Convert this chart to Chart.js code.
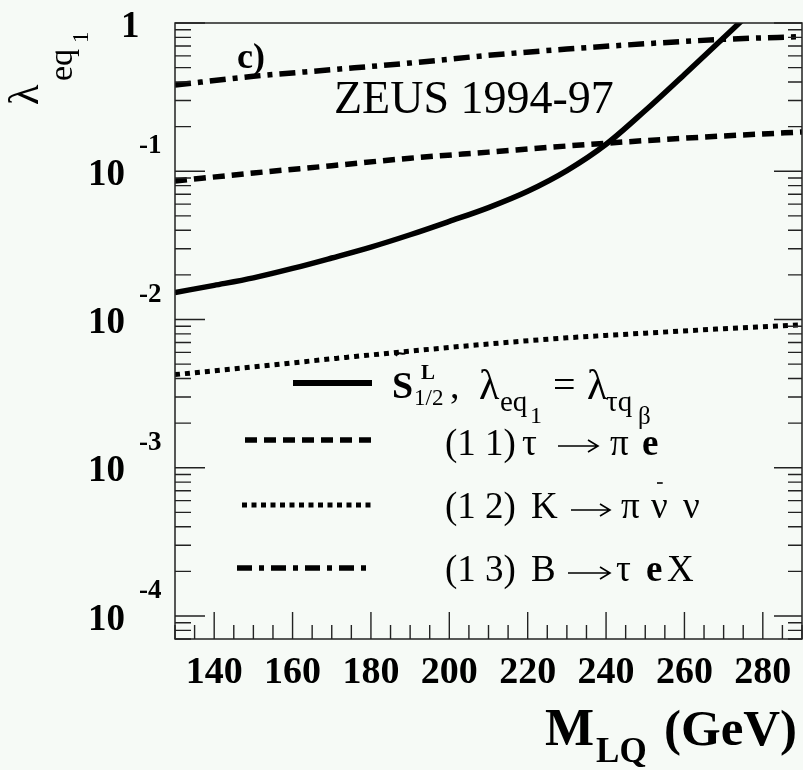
<!DOCTYPE html>
<html>
<head>
<meta charset="utf-8">
<title>ZEUS 1994-97 lambda_eq1 limits</title>
<script src="https://cdn.jsdelivr.net/npm/chart.js@4.4.1/dist/chart.umd.min.js"></script>
<style>
  html, body { margin: 0; padding: 0; background: #f6faf6; }
  #wrap { width: 803px; height: 770px; }
</style>
</head>
<body>
<div id="wrap"><canvas id="limitChart" width="803" height="770"></canvas></div>
<script>
// leptoquark mass (GeV) and upper limits on lambda_eq1
const massSolid = [130, 140, 150, 160, 170, 180, 190, 200, 210, 220, 230, 240, 250, 260, 270, 278];
const lambdaSolid = [0.0152, 0.0170, 0.0191, 0.0221, 0.0260, 0.0308, 0.0373, 0.0459, 0.0569, 0.0733, 0.101, 0.152, 0.257, 0.450, 0.794, 1.26];

const massLines = [130, 150, 170, 190, 210, 230, 250, 270, 290];
const lambdaTauPiE = [0.0859, 0.0973, 0.109, 0.1225, 0.1346, 0.148, 0.161, 0.173, 0.184];        // (11)
const lambdaKPiNuNu = [0.00425, 0.00479, 0.00543, 0.00612, 0.00684, 0.00752, 0.00809, 0.00867, 0.00923]; // (12)
const lambdaBTauEX = [0.381, 0.437, 0.484, 0.537, 0.605, 0.667, 0.724, 0.776, 0.809];          // (13)

const xMajorTicks = [140, 160, 180, 200, 220, 240, 260, 280];
const yDecades = [0, -1, -2, -3, -4];
const yTickLabels = ['1', '-1', '-2', '-3', '-4'];

const BG = '#f6faf6';
const SERIF = '"Liberation Serif", "Times New Roman", serif';

function toPoints(xs, ys) {
    return xs.map((m, i) => ({ x: m, y: ys[i] }));
}

function txt(ctx, s, x, y, font) {
    ctx.font = font;
    ctx.fillText(s, x, y);
    return x + ctx.measureText(s).width;
}

function arrow(ctx, x0, x1, y) {
    ctx.beginPath();
    ctx.moveTo(x0, y);
    ctx.lineTo(x1, y);
    ctx.moveTo(x1 - 10, y - 6);
    ctx.lineTo(x1, y);
    ctx.lineTo(x1 - 10, y + 6);
    ctx.lineWidth = 1.6;
    ctx.stroke();
}

const decorations = {
    id: 'decorations',
    beforeDraw(chart) {
        const ctx = chart.ctx;
        ctx.save();
        ctx.fillStyle = BG;
        ctx.fillRect(0, 0, chart.width, chart.height);
        ctx.restore();
    },
    afterDraw(chart) {
        const ctx = chart.ctx;
        const a = chart.chartArea;
        const xs = chart.scales.x;
        const ys = chart.scales.y;
        ctx.save();
        ctx.strokeStyle = '#222';
        ctx.fillStyle = '#000';

        // frame
        ctx.lineWidth = 1.5;
        ctx.strokeRect(a.left, a.top, a.right - a.left, a.bottom - a.top);

        // x ticks (bottom only)
        ctx.lineWidth = 1.4;
        for (let m = 130; m <= 290; m += 5) {
            const px = xs.getPixelForValue(m);
            const len = xMajorTicks.includes(m) ? 27 : 14;
            ctx.beginPath();
            ctx.moveTo(px, a.bottom);
            ctx.lineTo(px, a.bottom - len);
            ctx.stroke();
        }

        // y ticks left and right
        const yMin = ys.min, yMax = ys.max;
        for (let d = -5; d <= 0; d++) {
            for (let k = 1; k <= 9; k++) {
                const v = k * Math.pow(10, d);
                if (v < yMin * 0.999 || v > yMax * 1.001) continue;
                const py = ys.getPixelForValue(v);
                const major = k === 1;
                ctx.beginPath();
                ctx.moveTo(a.left, py);
                ctx.lineTo(a.left + (major ? 30 : 16), py);
                ctx.moveTo(a.right, py);
                ctx.lineTo(a.right - (major ? 28 : 14), py);
                ctx.stroke();
            }
        }

        // x tick labels
        ctx.textAlign = 'center';
        ctx.textBaseline = 'alphabetic';
        ctx.font = 'bold 38px ' + SERIF;
        xMajorTicks.forEach(m => {
            ctx.fillText(String(m), xs.getPixelForValue(m), 683);
        });

        // y tick labels
        ctx.textAlign = 'left';
        yDecades.forEach((d, i) => {
            const py = ys.getPixelForValue(Math.pow(10, d));
            if (d === 0) {
                txt(ctx, yTickLabels[i], 121, py + 14, 'bold 37px ' + SERIF);
            } else {
                txt(ctx, '10', 88, py + 13.5, 'bold 37px ' + SERIF);
                txt(ctx, yTickLabels[i], 139, py - 18, 'bold 27px ' + SERIF);
            }
        });

        // x axis title
        let cx = txt(ctx, 'M', 545, 745, 'bold 52px ' + SERIF);
        txt(ctx, 'LQ', cx + 2, 762, 'bold 35px ' + SERIF);
        txt(ctx, '(GeV)', 664, 745, 'bold 51px ' + SERIF);

        // y axis title
        ctx.save();
        ctx.translate(38, 105);
        ctx.rotate(-Math.PI / 2);
        txt(ctx, 'λ', 0, 0, '42px ' + SERIF);
        txt(ctx, 'eq', 24, 34, '34px ' + SERIF);
        txt(ctx, '1', 62, 50, '23px ' + SERIF);
        ctx.restore();

        // panel labels
        txt(ctx, 'c)', 237, 68, 'bold 36px ' + SERIF);
        txt(ctx, 'ZEUS 1994-97', 334, 113, '46px ' + SERIF);

        // legend samples
        ctx.strokeStyle = '#000';
        const samples = [
            { x0: 293, y: 383, dash: [], w: 6 },
            { x0: 245, y: 440, dash: [12, 7], w: 5.5 },
            { x0: 242, y: 505, dash: [5, 4.5], w: 5 },
            { x0: 237, y: 568, dash: [15, 7, 5, 7], w: 5.5 }
        ];
        samples.forEach(s => {
            ctx.beginPath();
            ctx.setLineDash(s.dash);
            ctx.lineWidth = s.w;
            ctx.moveTo(s.x0, s.y);
            ctx.lineTo(372, s.y);
            ctx.stroke();
        });
        ctx.setLineDash([]);

        // legend entry 1: S~^L_1/2, lambda_eq1 = lambda_tau q_beta
        txt(ctx, 'S', 392, 398, 'bold 38px ' + SERIF);
        ctx.beginPath();
        ctx.moveTo(396, 356);
        ctx.bezierCurveTo(399, 349, 403, 358, 408, 351);
        ctx.lineWidth = 2;
        ctx.stroke();
        txt(ctx, 'L', 421, 379, 'bold 21px ' + SERIF);
        txt(ctx, '1/2', 414, 405, '23px ' + SERIF);
        txt(ctx, ',', 450, 398, '38px ' + SERIF);
        txt(ctx, 'λ', 479, 399, '42px ' + SERIF);
        txt(ctx, 'eq', 500, 411, '29px ' + SERIF);
        txt(ctx, '1', 530, 423, '24px ' + SERIF);
        txt(ctx, '=', 553, 398, '40px ' + SERIF);
        txt(ctx, 'λ', 587, 399, '42px ' + SERIF);
        txt(ctx, 'τq', 606, 411, '29px ' + SERIF);
        txt(ctx, 'β', 638, 424, '25px ' + SERIF);

        // legend entries 11-13
        const f = '37px ' + SERIF;
        const fb = 'bold 37px ' + SERIF;
        txt(ctx, '(1 1)', 445, 455, f);
        txt(ctx, 'τ', 522, 455, f);
        arrow(ctx, 558, 598, 446);
        txt(ctx, 'π', 610, 455, f);
        txt(ctx, 'e', 642, 455, fb);

        txt(ctx, '(1 2)', 445, 518, f);
        txt(ctx, 'K', 531, 518, f);
        arrow(ctx, 571, 610, 510);
        txt(ctx, 'π', 621, 518, f);
        const nb = txt(ctx, 'ν', 651, 518, f);
        ctx.beginPath();
        ctx.moveTo(657, 483);
        ctx.lineTo(nb - 5, 483);
        ctx.lineWidth = 1.6;
        ctx.stroke();
        txt(ctx, 'ν', 683, 518, f);

        txt(ctx, '(1 3)', 445, 581, f);
        txt(ctx, 'B', 531, 581, f);
        arrow(ctx, 568, 610, 573);
        txt(ctx, 'τ', 616, 581, f);
        txt(ctx, 'e', 646, 581, fb);
        txt(ctx, 'X', 667, 581, f);

        ctx.restore();
    }
};

const ctx = document.getElementById('limitChart').getContext('2d');
new Chart(ctx, {
    type: 'line',
    data: {
        datasets: [
            {
                label: 'S1/2 L',
                data: toPoints(massSolid, lambdaSolid),
                borderColor: '#000',
                borderWidth: 5.5,
                pointRadius: 0,
                cubicInterpolationMode: 'monotone'
            },
            {
                label: '(11) tau -> pi e',
                data: toPoints(massLines, lambdaTauPiE),
                borderColor: '#000',
                borderWidth: 5.5,
                borderDash: [12, 7],
                pointRadius: 0,
                cubicInterpolationMode: 'monotone'
            },
            {
                label: '(12) K -> pi nu nu',
                data: toPoints(massLines, lambdaKPiNuNu),
                borderColor: '#000',
                borderWidth: 5,
                borderDash: [5, 5],
                pointRadius: 0,
                cubicInterpolationMode: 'monotone'
            },
            {
                label: '(13) B -> tau e X',
                data: toPoints(massLines, lambdaBTauEX),
                borderColor: '#000',
                borderWidth: 5.5,
                borderDash: [16, 7, 5, 7],
                pointRadius: 0,
                cubicInterpolationMode: 'monotone'
            }
        ]
    },
    options: {
        responsive: false,
        animation: false,
        layout: {
            padding: { left: 175, top: 23, right: 1, bottom: 131 }
        },
        scales: {
            x: { type: 'linear', min: 130, max: 290, display: false },
            y: { type: 'logarithmic', min: 7e-5, max: 1, display: false }
        },
        plugins: {
            legend: { display: false },
            tooltip: { enabled: false }
        }
    },
    plugins: [decorations]
});
</script>
</body>
</html>
